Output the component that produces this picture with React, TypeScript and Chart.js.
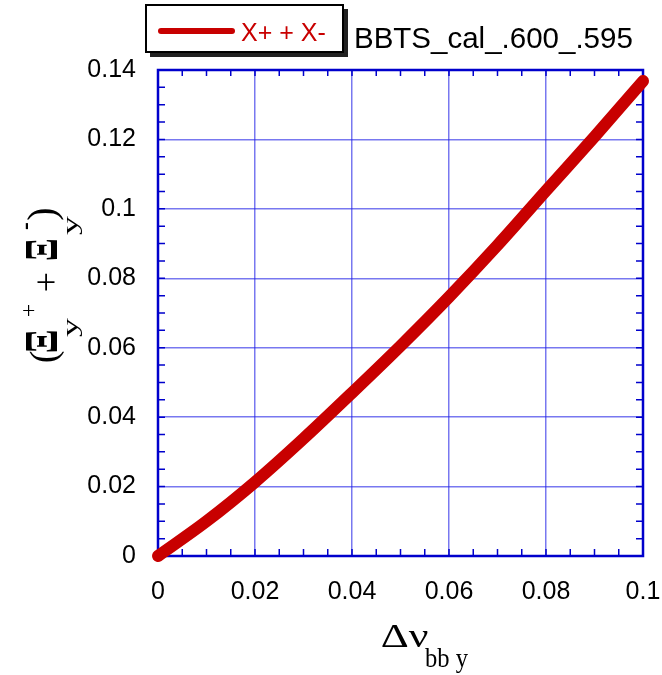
import React, { useEffect, useRef } from 'react';
import { Chart, registerables } from 'chart.js';

Chart.register(...registerables);

// ---- data ----
const xValues = [0, 0.01, 0.02, 0.03, 0.04, 0.05, 0.06, 0.07, 0.08, 0.09, 0.1];
const yValues = [0, 0.01, 0.0213, 0.0338, 0.047, 0.0605, 0.0746, 0.0895, 0.1052, 0.1208, 0.1368];
const xTickValues = [0, 0.02, 0.04, 0.06, 0.08, 0.1];
const xTickLabels = ['0', '0.02', '0.04', '0.06', '0.08', '0.1'];
const yTickValues = [0, 0.02, 0.04, 0.06, 0.08, 0.1, 0.12, 0.14];
const yTickLabels = ['0', '0.02', '0.04', '0.06', '0.08', '0.1', '0.12', '0.14'];
const minorStep = 0.005;
const seriesLabel = 'X+ + X-';
const chartTitle = 'BBTS_cal_.600_.595';

const RED = '#c80000';
const BLUE = '#0000cc';
const SANS = "'Liberation Sans', Arial, sans-serif";
const SERIF = "'Liberation Serif', 'Times New Roman', serif";

function fitText(
  ctx: CanvasRenderingContext2D,
  text: string,
  font: string,
  x0: number, y0: number, x1: number, y1: number,
  rotated: boolean,
  uniform = false
) {
  ctx.save();
  ctx.font = font;
  ctx.textAlign = 'left';
  ctx.textBaseline = 'alphabetic';
  const m = ctx.measureText(text);
  const left = m.actualBoundingBoxLeft;
  const right = m.actualBoundingBoxRight;
  const asc = m.actualBoundingBoxAscent;
  const desc = m.actualBoundingBoxDescent;
  const w = Math.max(left + right, 0.5);
  const h = Math.max(asc + desc, 0.5);
  ctx.translate((x0 + x1) / 2, (y0 + y1) / 2);
  let sx: number;
  let sy: number;
  if (rotated) {
    ctx.rotate(-Math.PI / 2);
    sx = (y1 - y0) / w;
    sy = (x1 - x0) / h;
  } else {
    sx = (x1 - x0) / w;
    sy = (y1 - y0) / h;
  }
  if (uniform) sx = sy;
  ctx.scale(sx, sy);
  ctx.fillText(text, left - w / 2, asc - h / 2);
  ctx.restore();
}

const decorPlugin = {
  id: 'decor',
  beforeDatasetsDraw(chart: any) {
    const { ctx, chartArea: a, scales } = chart;
    const xs = scales.x;
    const ys = scales.y;
    ctx.save();
    ctx.strokeStyle = BLUE;
    ctx.lineWidth = 1.5;
    const nx = Math.round((xs.max - xs.min) / minorStep);
    for (let i = 0; i <= nx; i++) {
      const px = xs.getPixelForValue(xs.min + i * minorStep);
      ctx.beginPath();
      ctx.moveTo(px, a.bottom);
      ctx.lineTo(px, a.bottom - 7);
      ctx.moveTo(px, a.top);
      ctx.lineTo(px, a.top + 6);
      ctx.stroke();
    }
    const ny = Math.round((ys.max - ys.min) / minorStep);
    for (let i = 0; i <= ny; i++) {
      const py = ys.getPixelForValue(ys.min + i * minorStep);
      ctx.beginPath();
      ctx.moveTo(a.left, py);
      ctx.lineTo(a.left + 7, py);
      ctx.moveTo(a.right, py);
      ctx.lineTo(a.right - 7, py);
      ctx.stroke();
    }
    ctx.lineWidth = 2.5;
    ctx.strokeRect(a.left, a.top, a.right - a.left, a.bottom - a.top);
    ctx.restore();
  },
  afterDraw(chart: any) {
    const { ctx } = chart;
    ctx.save();
    // legend box with shadow
    ctx.fillStyle = '#222';
    ctx.fillRect(150, 9, 198, 48);
    ctx.fillStyle = '#fff';
    ctx.fillRect(146, 5, 197, 47);
    ctx.strokeStyle = '#000';
    ctx.lineWidth = 2;
    ctx.strokeRect(146, 5, 197, 47);
    // legend sample line
    ctx.strokeStyle = RED;
    ctx.lineWidth = 6;
    ctx.lineCap = 'round';
    ctx.beginPath();
    ctx.moveTo(161, 31);
    ctx.lineTo(232, 31);
    ctx.stroke();
    // legend text
    ctx.fillStyle = RED;
    ctx.font = `25px ${SANS}`;
    ctx.textBaseline = 'alphabetic';
    ctx.textAlign = 'left';
    ctx.fillText(seriesLabel, 241, 41);
    // title
    ctx.fillStyle = '#000';
    ctx.font = `29.5px ${SANS}`;
    ctx.fillText(chartTitle, 354, 48);

    // y axis title (rotated)
    ctx.fillStyle = '#000';
    fitText(ctx, ')', `36px ${SERIF}`, 26, 204, 64, 224, true, true);
    fitText(ctx, '-', `20px ${SERIF}`, 25, 223, 28, 230, true);
    fitText(ctx, 'y', `20px ${SERIF}`, 67, 216, 82, 235, true);
    fitText(ctx, 'Ξ', `bold 30px ${SERIF}`, 28, 240, 57, 260, true);
    fitText(ctx, '+', `30px ${SERIF}`, 38, 273, 56, 291, true);
    fitText(ctx, '+', `20px ${SERIF}`, 21, 304, 34, 316, true);
    fitText(ctx, 'y', `20px ${SERIF}`, 67, 318, 82, 337, true);
    fitText(ctx, 'Ξ', `bold 30px ${SERIF}`, 28, 331, 57, 352, true);
    fitText(ctx, '(', `36px ${SERIF}`, 28, 348, 64, 366, true, true);

    // x axis title
    fitText(ctx, 'Δν', `34px ${SERIF}`, 382, 625, 428, 647, false);
    fitText(ctx, 'bb y', `24px ${SERIF}`, 425, 649, 468, 673, false);
    ctx.restore();
  },
};

export default function App() {
  const ref = useRef<HTMLCanvasElement | null>(null);

  useEffect(() => {
    if (!ref.current) return;
    const points = xValues.map((x, i) => ({ x, y: yValues[i] }));
    const chart = new Chart(ref.current, {
      type: 'line',
      data: {
        datasets: [
          {
            label: seriesLabel,
            data: points,
            borderColor: RED,
            backgroundColor: RED,
            borderWidth: 12,
            borderCapStyle: 'round',
            borderJoinStyle: 'round',
            pointRadius: 0,
            cubicInterpolationMode: 'monotone',
            fill: false,
            clip: false as any,
          } as any,
        ],
      },
      options: {
        animation: false,
        responsive: false,
        devicePixelRatio: 1,
        layout: { padding: { left: 0, top: 70, right: 19, bottom: 0 } },
        plugins: {
          legend: { display: false },
          tooltip: { enabled: false },
          title: { display: false },
        },
        scales: {
          x: {
            type: 'linear',
            min: 0,
            max: 0.1,
            afterBuildTicks: (s: any) => {
              s.ticks = xTickValues.map((v) => ({ value: v }));
            },
            afterFit: (s: any) => {
              s.height = 119;
              s.paddingLeft = 0;
              s.paddingRight = 0;
            },
            ticks: {
              callback: (_v: any, i: number) => xTickLabels[i],
              color: '#000',
              font: { family: SANS, size: 25 },
              padding: 21,
              maxRotation: 0,
              autoSkip: false,
            },
            grid: {
              color: 'rgba(30,30,230,0.6)',
              lineWidth: 1.5,
              drawTicks: false,
            },
            border: { display: false },
          },
          y: {
            type: 'linear',
            min: 0,
            max: 0.14,
            afterBuildTicks: (s: any) => {
              s.ticks = yTickValues.map((v) => ({ value: v }));
            },
            afterFit: (s: any) => {
              s.width = 158;
              s.paddingTop = 0;
              s.paddingBottom = 0;
            },
            ticks: {
              callback: (_v: any, i: number) => yTickLabels[i],
              color: '#000',
              font: { family: SANS, size: 25 },
              padding: 22,
              autoSkip: false,
            },
            grid: {
              color: 'rgba(30,30,230,0.6)',
              lineWidth: 1.5,
              drawTicks: false,
            },
            border: { display: false },
          },
        },
      },
      plugins: [decorPlugin],
    });
    return () => chart.destroy();
  }, []);

  return (
    <div style={{ position: 'fixed', left: 0, top: 0, width: 662, height: 675, background: '#fff' }}>
      <canvas ref={ref} width={662} height={675} style={{ display: 'block' }} />
    </div>
  );
}
